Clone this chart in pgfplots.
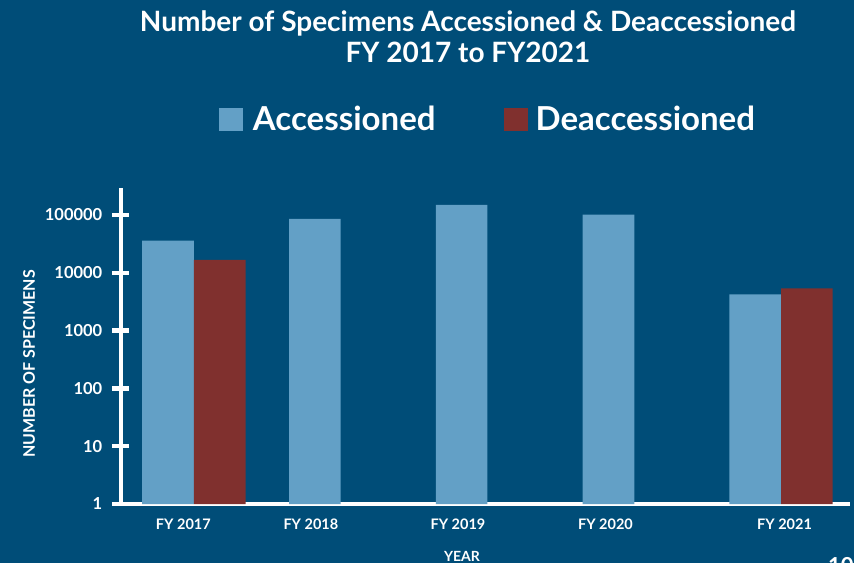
\documentclass[border=0pt]{standalone}
\usepackage{pgfplots}
\pgfplotsset{compat=1.18}
\usepackage{fontspec}
\setmainfont{Lato}

\definecolor{bgc}{RGB}{0,77,120}
\definecolor{acc}{RGB}{99,160,198}
\definecolor{deacc}{RGB}{128,48,46}

\begin{document}
\begin{tikzpicture}
% slide background, also the page size (854 x 563)
\path[fill=bgc, use as bounding box] (-121bp,-59bp) rectangle (733bp,504bp);

\begin{axis}[
	scale only axis,
	width=729bp, height=316bp,
	at={(0,0)}, anchor=south west,
	ymode=log,
	xmin=-0.497, xmax=4.47,
	ymin=1, ymax=293000,
	ybar=0pt, bar width=51.7bp,
	axis lines=left,
	axis line style={-, white, line width=4.5bp},
	ytick={1,10,100,1000,10000,100000},
	yticklabels={1,10,100,1000,10000,100000},
	yminorticks=false,
	ytick align=center,
	major tick length=17bp,
	y tick style={white, line width=4.5bp},
	xtick={-0.072,0.797,1.799,2.804,4.024},
	xticklabels={FY 2017,FY 2018,FY 2019,FY 2020,FY 2021},
	x tick style={draw=none},
	/pgf/number format/assume math mode=true,
	tick label style={text=white},
	y tick label style={anchor=east, inner sep=0pt, xshift=-10bp,
		font=\fontsize{16.5bp}{18bp}\selectfont\bfseries},
	x tick label style={anchor=base, inner sep=0pt, yshift=-17bp,
		font=\fontsize{14.5bp}{16bp}\selectfont\bfseries},
	ylabel={NUMBER OF SPECIMENS},
	ylabel style={at={(axis description cs:-0.1262,0.443)}, anchor=center, rotate=0,
		text=white, font=\fontsize{16bp}{18bp}\selectfont\bfseries},
	xlabel={YEAR},
	xlabel style={at={(axis description cs:0.4678,-0.1646)}, anchor=center,
		text=white, font=\fontsize{14bp}{16bp}\selectfont\bfseries},
	legend columns=2,
	legend style={at={(0.1344,1.1763)}, anchor=south west, draw=none, fill=none,
		inner sep=0pt, outer sep=0pt, text=white,
		font=\fontsize{33bp}{35bp}\selectfont\bfseries,
		nodes={inner sep=0pt},
		/tikz/column 1/.style={column sep=10bp},
		/tikz/column 2/.style={column sep=68bp},
		/tikz/column 3/.style={column sep=8bp}},
	legend image code/.code={\fill[#1] (0bp,-12bp) rectangle (24bp,11.3bp);},
]
\addplot[fill=acc, draw=none] coordinates {(0,36000) (1,86000) (2,149000) (3,101000) (4,4250)};
\addplot[fill=deacc, draw=none] coordinates {(0,16800) (4,5400)};
\legend{Accessioned, Deaccessioned}
\end{axis}

% title
\node[anchor=base, text=white, font=\fontsize{28bp}{30bp}\selectfont\bfseries] at (347bp,472bp)
	{Number of Specimens Accessioned \& Deaccessioned};
\node[anchor=base, text=white, font=\fontsize{28bp}{30bp}\selectfont\bfseries] at (347bp,441bp)
	{FY 2017 to FY2021};
% page number, cut by the slide edge
\node[anchor=north west, inner sep=0pt, text=white, font=\fontsize{22bp}{24bp}\selectfont\bfseries] at (707bp,-53bp) {10};
\end{tikzpicture}
\end{document}
